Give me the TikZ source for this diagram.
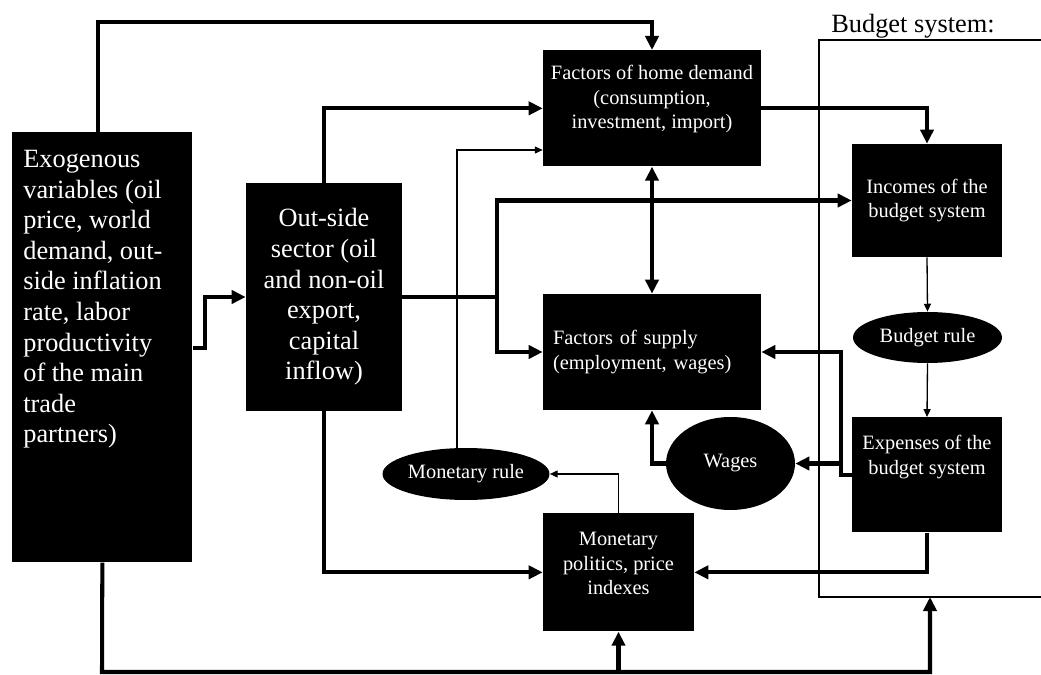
\documentclass[tikz,border=0pt]{standalone}
\usepackage{fontspec}
\setmainfont{Liberation Serif}
\usetikzlibrary{arrows.meta,shapes.geometric}

\tikzset{
  blk/.style = {rectangle, fill=black, text=white, inner sep=0pt, font=\fontsize{11.6pt}{13.9pt}\selectfont},
  big/.style = {font=\fontsize{15pt}{17.4pt}\selectfont},
  oval/.style = {ellipse, fill=black, text=white, inner sep=0pt, font=\fontsize{11.6pt}{13.9pt}\selectfont},
  flow/.style = {line width=2.3pt, >={Triangle[length=8pt,width=7.5pt]}},
  link/.style = {line width=0.75pt, >={Triangle[length=4.5pt,width=4pt]}}
}

\begin{document}
\begin{tikzpicture}[x=0.02cm, y=-0.02cm]
\useasboundingbox (0,0) rectangle (1041,675);
% budget system frame
\node [big] (title) at (913,26) {Budget system:};
\draw [link] (1041,40) -- (819,40) -- (819,597) -- (1041,597);
\coordinate (bs) at (930,597);
% blocks
\node [blk, big, anchor=north west, inner xsep=0.22cm, inner ysep=0.36cm] (exog) at (12,132)
  {\parbox[t][7.88cm][t]{3.16cm}{\raggedright Exogenous\\ variables (oil\\ price, world\\ demand, out-\\ side inflation\\ rate, labor\\ productivity\\ of the main\\ trade\\ partners)}};
\node [blk, big, align=center, minimum width=3.12cm, minimum height=4.56cm] (outside) at (324,297)
  {Out-side\\ sector (oil\\ and non-oil\\ export,\\ capital\\ inflow)};
\node [blk, anchor=north, inner ysep=0.3cm] (demand) at (652,50)
  {\parbox[t][1.72cm][t]{4.36cm}{\centering Factors of home demand\\ (consumption,\\ investment, import)}};
\node [blk, align=left, text width=3.96cm, inner xsep=0.2cm, minimum height=2.32cm] (supply) at (652,352)
  {Factors of supply\\ (employment, wages)};
\node [blk, anchor=north, inner ysep=0.38cm] (monetary) at (618.5,513)
  {\parbox[t][1.6cm][t]{3.02cm}{\centering Monetary\\ politics, price\\ indexes}};
\node [blk, align=center, minimum width=3cm, minimum height=2.26cm] (incomes) at (927,200.5)
  {Incomes of the\\ budget system};
\node [blk, anchor=north, inner ysep=0.36cm] (expenses) at (927,417)
  {\parbox[t][1.58cm][t]{3cm}{\centering Expenses of the\\ budget system}};
\node [oval, minimum width=2.98cm, minimum height=1.02cm] (budrule) at (927.5,337.5) {Budget rule};
\node [oval, minimum width=2.58cm, minimum height=1.86cm] (wages) at (730.5,463.5) {Wages};
\node [oval, minimum width=3.34cm, minimum height=1.04cm] (monrule) at (466,474) {Monetary rule};
% connectors
\coordinate (fork) at (outside.east -| 497,0);
\coordinate (jn) at (841,0);
\draw [flow,->] (exog.north -| 98,0) -- (98,22) -| (demand.north);
\draw [flow,->] (exog.east |- 0,348) -- (205,348) |- (outside.west);
\draw [flow,->] (outside.north) |- (demand.west);
\draw [link,->] (monrule.north -| 457,0) |- (demand.west |- 0,150);
\draw [flow] (outside.east) -- (fork);
\draw [flow,->] (fork) |- (incomes.west);
\draw [flow,->] (fork) |- (supply.west);
\draw [flow,<->] (demand.south) -- (supply.north);
\draw [flow,->] (demand.east) -| (incomes.north);
\draw [link,->] (incomes.south) -- (budrule.north);
\draw [link,->] (budrule.south) -- (expenses.north);
\draw [flow,->] (expenses.west) -- (expenses.west -| jn) |- (supply.east);
\draw [flow,->] (wages.east -| jn) -- (wages.east);
\draw [flow,->] (wages.west) -| (supply.south);
\draw [flow,->] (expenses.south) |- (monetary.east);
\draw [link,->] (monetary.north) |- (monrule.east);
\draw [flow,->] (outside.south) |- (monetary.west);
\draw [flow,->] (exog.south) -- (102,672) -| (bs);
\draw [flow,->] (monetary.south |- 0,672) -- (monetary.south);
\end{tikzpicture}
\end{document}
